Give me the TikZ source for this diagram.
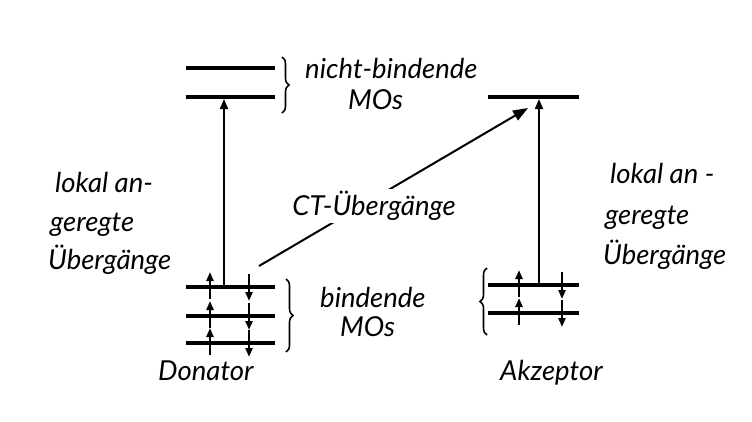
\documentclass[tikz,border=0pt]{standalone}
\usepackage{fontspec}
\setmainfont{Lato}
\usetikzlibrary{arrows.meta,decorations.pathreplacing}
\tikzset{
  level/.style={line width=3.6pt},
  trans/.style={line width=1.8pt,-{Triangle[length=10pt,width=8pt]}},
  ctarrow/.style={line width=2pt,-{Triangle[length=15pt,width=11pt]}},
  eup/.style={line width=2.6pt,-{Triangle[length=9pt,width=7pt]}},
  brc/.style={decorate,decoration={brace,amplitude=7pt},line width=1.6pt},
  lbl/.style={font=\fontsize{27.5}{30}\selectfont\itshape,inner sep=0pt},
}
\begin{document}
\begin{tikzpicture}[x=1pt,y=-1pt]
\useasboundingbox[fill=white] (0,0) rectangle (752,421);
% Donor levels
\foreach \n/\y in {nb1/68,nb2/97,b1/287,b2/316,b3/343}{
  \coordinate (d\n L) at (186,\y);
  \coordinate (d\n R) at (275,\y);
  \draw[level] (d\n L) -- (d\n R);
}
% Acceptor levels
\foreach \n/\y in {nb/97,b1/285,b2/313}{
  \coordinate (a\n L) at (488,\y);
  \coordinate (a\n R) at (579,\y);
  \draw[level] (a\n L) -- (a\n R);
}
% electrons donor
\foreach \y in {287,316,343}{
  \draw[eup] (210,\y+12) -- (210,\y-15);
  \draw[eup] (249,\y-13) -- (249,\y+14);
}
% electrons acceptor
\foreach \y in {285,313}{
  \draw[eup] (519,\y+12) -- (519,\y-15);
  \draw[eup] (562,\y-13) -- (562,\y+14);
}
% local transitions
\coordinate (dfrom) at (224,287);
\coordinate (dto) at (224,99);
\draw[trans] (dfrom) -- (dto);
\coordinate (afrom) at (539,285);
\coordinate (ato) at (539,99);
\draw[trans] (afrom) -- (ato);
% CT transition
\coordinate (ctfrom) at (259,266);
\coordinate (ctto) at (528,108);
\draw[ctarrow] (ctfrom) -- (ctto);
\node[lbl,fill=white,inner sep=2pt] (ct) at (374,206) {CT-Übergänge};
% braces
\draw[brc] (282,57) -- (282,113);
\draw[brc] (286,279) -- (286,352);
\draw[brc] (487,335) -- (487,268);
% labels
\node[lbl,anchor=west] (nbt) at (305,68) {nicht-bindende};
\node[lbl,anchor=west] (nbm) at (348,100) {MOs};
\node[lbl,anchor=west] (bt) at (320,297) {bindende};
\node[lbl,anchor=west] (bm) at (340,327) {MOs};
\node[lbl,anchor=west] (don) at (158,371) {Donator};
\node[lbl,anchor=west] (akz) at (500,373) {Akzeptor};
\node[lbl,anchor=west] (l1) at (55,182) {lokal an-};
\node[lbl,anchor=west] (l2) at (50,225) {geregte};
\node[lbl,anchor=west] (l3) at (48,260) {Übergänge};
\node[lbl,anchor=west] (r1) at (610,173) {lokal an -};
\node[lbl,anchor=west] (r2) at (605,218) {geregte};
\node[lbl,anchor=west] (r3) at (603,255) {Übergänge};
\end{tikzpicture}
\end{document}
